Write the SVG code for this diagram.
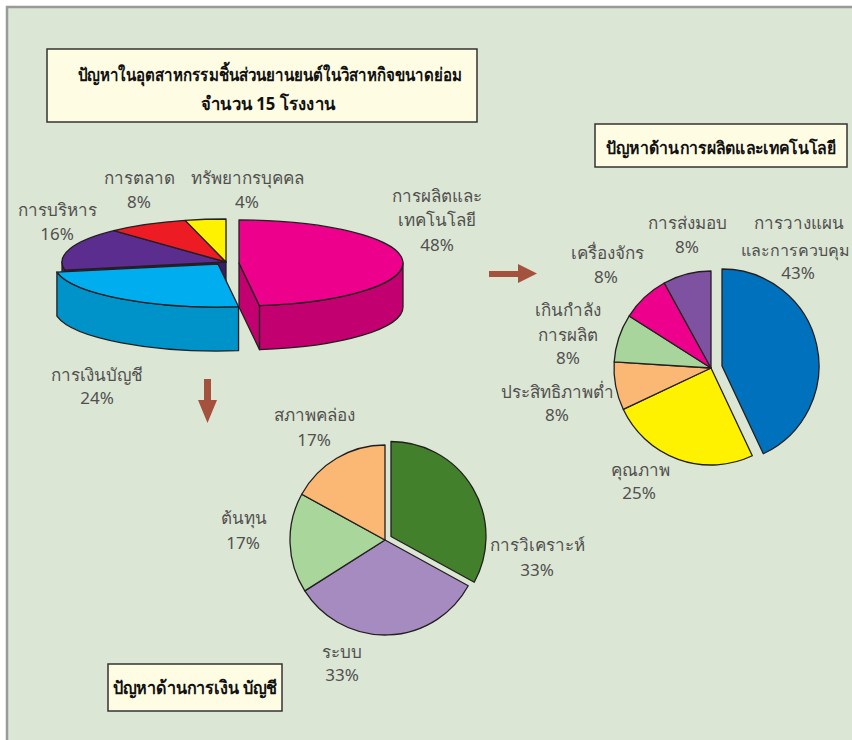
<svg xmlns="http://www.w3.org/2000/svg" width="852" height="740" viewBox="0 0 852 740">
<style>
.lbl{font-family:"Noto Sans","DejaVu Sans",sans-serif;font-size:17px;fill:#505050;text-anchor:middle}
.ttl{font-family:"Noto Sans","DejaVu Sans",sans-serif;font-size:18px;font-weight:bold;fill:#111;text-anchor:middle}
.box{fill:#fefce3;stroke:#333;stroke-width:1.5}
.s{stroke:#231f20;stroke-width:1.3;stroke-linejoin:round}
.arr{fill:#a4513d}
</style>
<rect x="0" y="0" width="852" height="740" fill="#ffffff"/>
<rect x="7" y="7" width="860" height="760" fill="#dce6d4" stroke="#9a9a9a" stroke-width="2.5"/>

<g id="title-main">
<rect class="box" x="47" y="49" width="430" height="73"/>
<text class="ttl" x="270" y="81" textLength="384" lengthAdjust="spacingAndGlyphs">ปัญหาในอุตสาหกรรมชิ้นส่วนยานยนต์ในวิสาหกิจขนาดย่อม</text>
<text class="ttl" x="268" y="110" textLength="134" lengthAdjust="spacingAndGlyphs">จำนวน 15 โรงงาน</text>
</g>

<g id="title-production">
<rect class="box" x="595" y="124" width="252" height="43"/>
<text class="ttl" x="721" y="154" style="font-size:17px" textLength="230" lengthAdjust="spacingAndGlyphs">ปัญหาด้านการผลิตและเทคโนโลยี</text>
</g>

<g id="title-finance">
<rect class="box" x="108" y="664" width="174" height="47"/>
<text class="ttl" x="195" y="694" textLength="164" lengthAdjust="spacingAndGlyphs">ปัญหาด้านการเงิน บัญชี</text>
</g>

<g id="pie-overall">
<path class="s" fill="#3d1c66" d="M226,262 L64.9,270.06 L64.9,314.06 L226,306 Z"/>
<path class="s" fill="#45226f" d="M64.9,270.06 A164,43 0 0 1 62,262 L62,306 A164,43 0 0 0 64.9,314.06 Z"/>
<path class="s" fill="#5b2d8e" d="M226,262 L64.9,270.06 A164,43 0 0 1 113.7,230.65 Z"/>
<path class="s" fill="#ed1c24" d="M226,262 L113.7,230.65 A164,43 0 0 1 185.2,220.35 Z"/>
<path class="s" fill="#fff200" d="M226,262 L185.2,220.35 A164,43 0 0 1 226,219 Z"/>
<path class="s" fill="#0093c9" d="M238.55,306.66 A164,43 0 0 1 56.9,272.06 L56.9,316.06 A164,43 0 0 0 238.55,350.66 Z"/>
<path class="s" fill="#00aeef" d="M218,264 L238.55,306.66 A164,43 0 0 1 56.9,272.06 Z"/>
<path class="s" fill="#c2006f" d="M239,263 L259.55,305.66 L259.55,349.66 L239,307 Z"/>
<path class="s" fill="#c2006f" d="M403,263 A164,43 0 0 1 259.55,305.66 L259.55,349.66 A164,43 0 0 0 403,307 Z"/>
<path class="s" fill="#ec008c" d="M239,263 L239,220 A164,43 0 0 1 259.55,305.66 Z"/>
</g>

<g id="labels-overall">
<text class="lbl" x="139" y="184">การตลาด</text>
<text class="lbl" x="139" y="208">8%</text>
<text class="lbl" x="247" y="184">ทรัพยากรบุคคล</text>
<text class="lbl" x="247" y="208">4%</text>
<text class="lbl" x="57" y="216">การบริหาร</text>
<text class="lbl" x="57" y="240">16%</text>
<text class="lbl" x="437" y="202">การผลิตและ</text>
<text class="lbl" x="437" y="226">เทคโนโลยี</text>
<text class="lbl" x="437" y="251">48%</text>
<text class="lbl" x="97" y="381">การเงินบัญชี</text>
<text class="lbl" x="97" y="404">24%</text>
</g>

<g id="pie-production">
<path class="s" fill="#0071bc" d="M722,366 L722,269 A97,97 0 0 1 763.3,453.77 Z"/>
<path class="s" fill="#fff200" d="M711,368 L752.3,455.77 A97,97 0 0 1 623.23,409.3 Z"/>
<path class="s" fill="#fbb874" d="M711,368 L623.23,409.3 A97,97 0 0 1 614.19,361.91 Z"/>
<path class="s" fill="#a8d59b" d="M711,368 L614.19,361.91 A97,97 0 0 1 629.1,316.03 Z"/>
<path class="s" fill="#ec008c" d="M711,368 L629.1,316.03 A97,97 0 0 1 664.27,283 Z"/>
<path class="s" fill="#7f52a1" d="M711,368 L664.27,283 A97,97 0 0 1 711,271 Z"/>
</g>

<g id="labels-production">
<text class="lbl" x="687" y="229">การส่งมอบ</text>
<text class="lbl" x="687" y="253">8%</text>
<text class="lbl" x="799" y="229">การวางแผน</text>
<text class="lbl" x="795" y="256" style="font-size:16px">และการควบคุม</text>
<text class="lbl" x="798" y="279">43%</text>
<text class="lbl" x="607" y="259">เครื่องจักร</text>
<text class="lbl" x="606" y="283">8%</text>
<text class="lbl" x="568" y="316">เกินกำลัง</text>
<text class="lbl" x="568" y="341">การผลิต</text>
<text class="lbl" x="568" y="364">8%</text>
<text class="lbl" x="557" y="398">ประสิทธิภาพต่ำ</text>
<text class="lbl" x="557" y="421">8%</text>
<text class="lbl" x="640" y="476">คุณภาพ</text>
<text class="lbl" x="639" y="499">25%</text>
</g>

<g id="pie-finance">
<path class="s" fill="#43802b" d="M391,536.5 L391,441.5 A95,95 0 0 1 474.25,582.27 Z"/>
<path class="s" fill="#a68bc1" d="M385,540 L468.25,585.77 A95,95 0 0 1 304.79,590.9 Z"/>
<path class="s" fill="#a9d69b" d="M385,540 L304.79,590.9 A95,95 0 0 1 301.75,494.23 Z"/>
<path class="s" fill="#fbb874" d="M385,540 L301.75,494.23 A95,95 0 0 1 385,445 Z"/>
</g>

<g id="labels-finance">
<text class="lbl" x="314" y="421">สภาพคล่อง</text>
<text class="lbl" x="314" y="446">17%</text>
<text class="lbl" x="244" y="524">ต้นทุน</text>
<text class="lbl" x="243" y="549">17%</text>
<text class="lbl" x="537" y="551">การวิเคราะห์</text>
<text class="lbl" x="537" y="576">33%</text>
<text class="lbl" x="342" y="658">ระบบ</text>
<text class="lbl" x="342" y="681">33%</text>
</g>

<g id="connectors">
<polygon class="arr" points="204,379 211,379 211,400 217,400 207.5,423 198,400 204,400"/>
<polygon class="arr" points="489,271 518,271 518,264 537,273.5 518,283 518,277 489,277"/>
</g>
</svg>
